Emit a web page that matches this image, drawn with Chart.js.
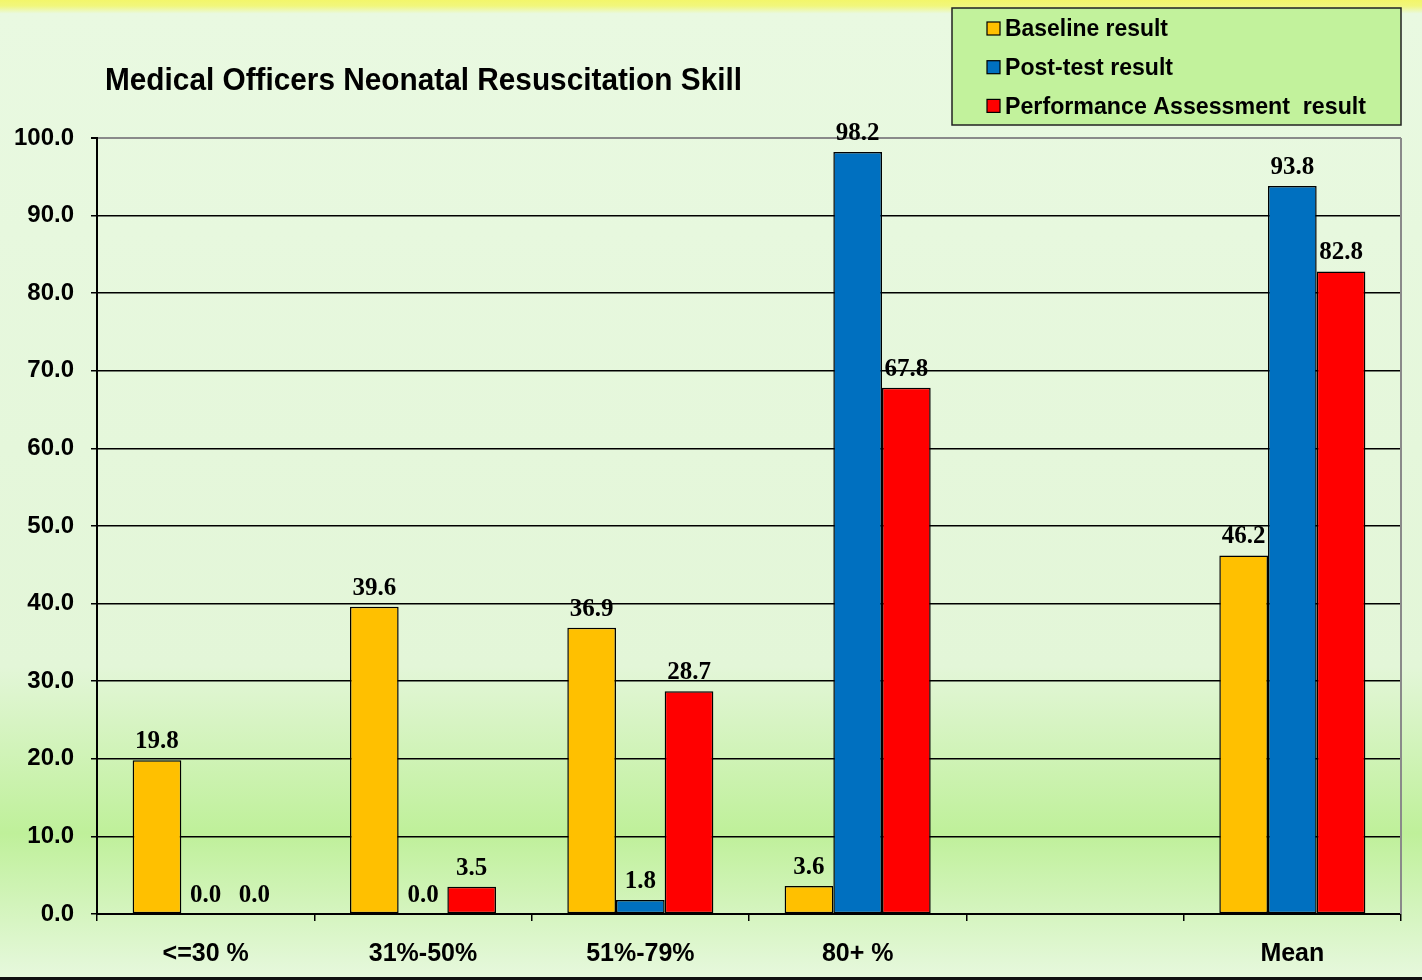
<!DOCTYPE html>
<html>
<head>
<meta charset="utf-8">
<script src="https://cdn.jsdelivr.net/npm/chart.js@4/dist/chart.umd.min.js"></script>
<style>
  html, body { margin: 0; padding: 0; overflow: hidden; background: #e9f9e1; }
</style>
</head>
<body>
<canvas id="chart" width="1422" height="980"></canvas>
<script>
// values
const categories = ['<=30 %', '31%-50%', '51%-79%', '80+ %', '', 'Mean'];
const seriesNames = ['Baseline result', 'Post-test result', 'Performance Assessment  result'];
const baseline = [19.8, 39.6, 36.9, 3.6, null, 46.2];
const postTest = [0.0, 0.0, 1.8, 98.2, null, 93.8];
const assessment = [0.0, 3.5, 28.7, 67.8, null, 82.8];
const seriesColors = ['#FFC000', '#0070C0', '#FF0000'];
const chartTitle = 'Medical Officers Neonatal Resuscitation Skill';

const SANS = '"Liberation Sans", Arial, sans-serif';
const SERIF = '"Liberation Serif", "Times New Roman", serif';

// draw text squeezed horizontally to a given width (the original uses a narrow bold face)
function fitText(ctx, text, x, y, width) {
  let w = ctx.measureText(text).width;
  let s = w > width ? width / w : 1;
  ctx.save();
  ctx.translate(x, y);
  ctx.scale(s, 1);
  ctx.fillText(text, 0, 0);
  ctx.restore();
}

// page background: yellow strip on top, green band near the bottom
const backgroundPlugin = {
  id: 'pageBackground',
  beforeDraw(chart) {
    const ctx = chart.ctx, w = chart.width, h = chart.height;
    ctx.save();
    let g = ctx.createLinearGradient(0, 0, 0, h);
    g.addColorStop(0, '#f3f66a');
    g.addColorStop(0.006, '#f1f77c');
    g.addColorStop(0.014, '#e9f9e1');
    g.addColorStop(0.68, '#e3f6d8');
    g.addColorStop(0.85, '#bff09a');
    g.addColorStop(0.995, '#e6f8dc');
    ctx.fillStyle = g;
    ctx.fillRect(0, 0, w, h);
    ctx.fillStyle = '#111';
    ctx.fillRect(0, h - 3, w, 3);
    ctx.restore();
  },
  beforeDatasetsDraw(chart) {
    // light grey right edge of the plot area
    const a = chart.chartArea, ctx = chart.ctx;
    ctx.save();
    ctx.strokeStyle = '#8a8a8a';
    ctx.lineWidth = 2;
    ctx.beginPath();
    ctx.moveTo(a.right, a.top);
    ctx.lineTo(a.right, a.bottom);
    ctx.stroke();
    ctx.restore();
  }
};

// value labels above each bar
const valueLabels = {
  id: 'valueLabels',
  afterDatasetsDraw(chart) {
    const ctx = chart.ctx;
    ctx.save();
    ctx.font = 'bold 25px ' + SERIF;
    ctx.fillStyle = '#000';
    ctx.textAlign = 'center';
    ctx.textBaseline = 'alphabetic';
    chart.data.datasets.forEach((ds, i) => {
      chart.getDatasetMeta(i).data.forEach((bar, j) => {
        let v = ds.data[j];
        if (v === null) return;
        ctx.fillText(v.toFixed(1), bar.x, bar.y - 12);
      });
    });
    ctx.restore();
  }
};

// title and boxed legend, drawn like the original
const titleAndLegend = {
  id: 'titleAndLegend',
  afterDraw(chart) {
    const ctx = chart.ctx;
    ctx.save();
    ctx.fillStyle = '#000';
    ctx.font = 'bold 32px ' + SANS;
    ctx.textBaseline = 'middle';
    ctx.textAlign = 'left';
    fitText(ctx, chartTitle, 105, 81, 637);

    // legend box
    ctx.fillStyle = '#c2f29c';
    ctx.fillRect(952, 8, 449, 117);
    ctx.strokeStyle = '#222';
    ctx.lineWidth = 1.5;
    ctx.strokeRect(952, 8, 449, 117);

    ctx.font = 'bold 24px ' + SANS;
    const widths = [163, 168, 361];
    chart.data.datasets.forEach((ds, i) => {
      let y = 28.5 + i * 38.7;
      ctx.fillStyle = ds.backgroundColor;
      ctx.fillRect(987, y - 6.5, 13, 13);
      ctx.strokeStyle = '#000';
      ctx.lineWidth = 1.2;
      ctx.strokeRect(987, y - 6.5, 13, 13);
      ctx.fillStyle = '#000';
      fitText(ctx, ds.label, 1005, y + 1, widths[i]);
    });
    ctx.restore();
  }
};

const seriesData = [baseline, postTest, assessment];

new Chart(document.getElementById('chart'), {
  type: 'bar',
  data: {
    labels: categories,
    datasets: seriesNames.map((name, i) => ({
      label: name,
      data: seriesData[i],
      backgroundColor: seriesColors[i],
      borderColor: '#000',
      borderWidth: ctx => (ctx.raw ? 1.5 : 0),
      borderSkipped: false,
      categoryPercentage: 0.672,
      barPercentage: 1.0
    }))
  },
  options: {
    responsive: false,
    devicePixelRatio: 1,
    animation: false,
    layout: { padding: { left: 0, top: 138, right: 21, bottom: 0 } },
    plugins: {
      legend: { display: false },
      title: { display: false },
      tooltip: { enabled: false }
    },
    scales: {
      x: {
        afterFit: scale => { scale.height = 66; },
        grid: {
          offset: true,
          drawOnChartArea: false,
          drawTicks: true,
          tickLength: 7,
          color: '#000',
          lineWidth: 1.5
        },
        border: { color: '#000', width: 2 },
        ticks: {
          color: '#000',
          padding: 18,
          font: { family: SANS, size: 25, weight: 'bold' }
        }
      },
      y: {
        min: 0,
        max: 100,
        afterFit: scale => { scale.width = 97; },
        grid: {
          color: ctx => (ctx.tick && ctx.tick.value === 100 ? '#8a8a8a' : '#000'),
          tickColor: '#000',
          lineWidth: ctx => (ctx.tick && ctx.tick.value === 100 ? 2 : 1.5),
          tickLength: 6
        },
        border: { color: '#000', width: 2 },
        ticks: {
          stepSize: 10,
          color: '#000',
          padding: 17,
          font: { family: SANS, size: 24, weight: 'bold' },
          callback: v => Number(v).toFixed(1)
        }
      }
    }
  },
  plugins: [backgroundPlugin, valueLabels, titleAndLegend]
});
</script>
</body>
</html>
